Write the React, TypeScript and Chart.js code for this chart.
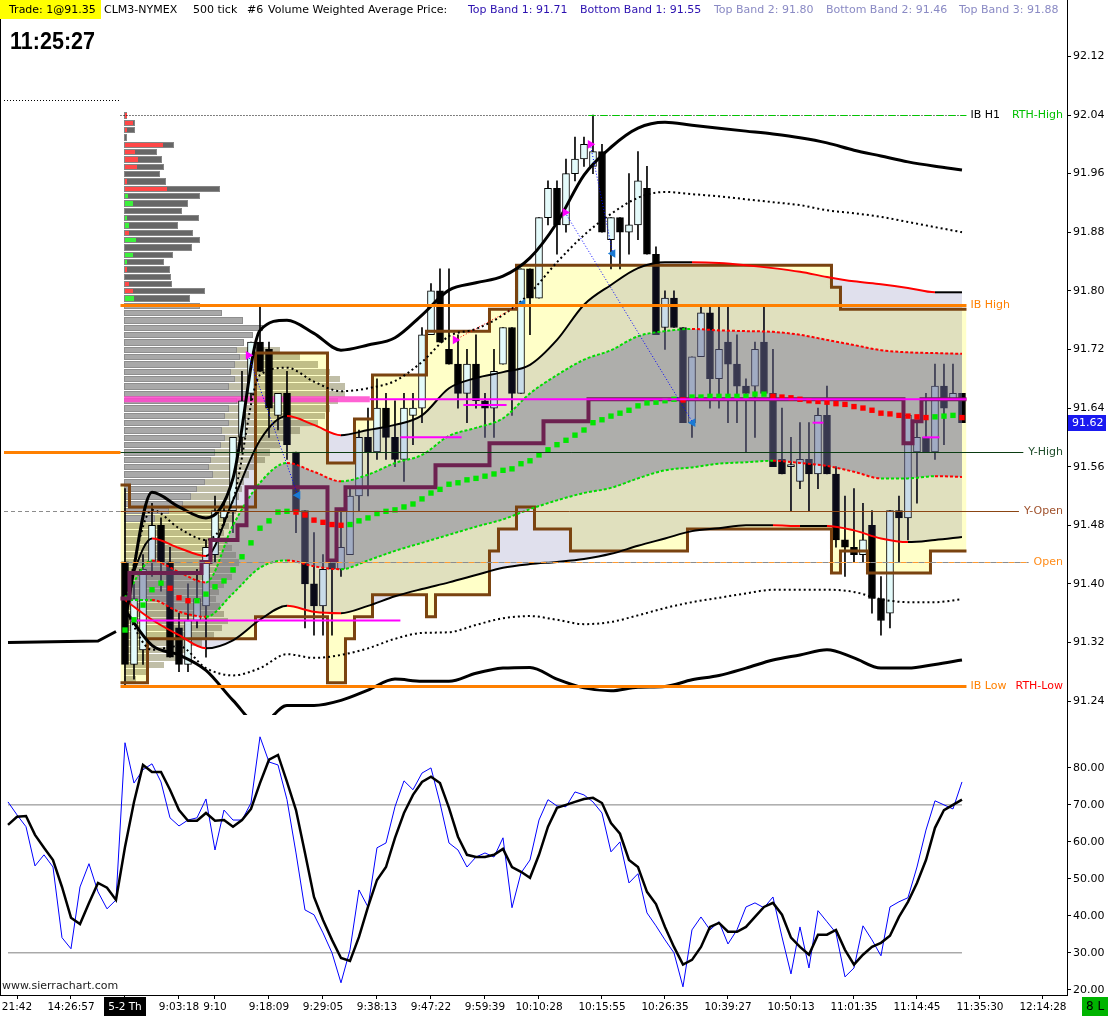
import { useEffect, useRef } from "react"
import { Chart, registerables } from "chart.js"

Chart.register(...registerables)

const FONT = '"DejaVu Sans", Verdana, sans-serif'
const TICK = 0.01 // CL tick size
const VOL_PX = 1 // profile width in px per volume unit

// pane heights in pixels: price pane on top, stochastic pane below
const PRICE_PANE = 715
const OSC_PANE = 280

// ---- time axis ----
const firstBar = 13 // first 500-tick bar of the 5-2 session
const timeTickBars = [1, 7, 13, 19, 23, 29, 35, 41, 47, 53, 59, 66, 73, 80, 87, 94, 101, 108, 115]
const timeTickLabels = ["21:42", "14:26:57", "5-2 Th", "9:03:18", "9:10", "9:18:09", "9:29:05", "9:38:13", "9:47:22", "9:59:39", "10:10:28", "10:15:55", "10:26:35", "10:39:27", "10:50:13", "11:01:35", "11:14:45", "11:35:30", "12:14:28"]
const dayLabel = "5-2 Th"

const priceTicks = [91.24, 91.28, 91.32, 91.36, 91.4, 91.44, 91.48, 91.52, 91.56, 91.6, 91.64, 91.68, 91.72, 91.76, 91.8, 91.84, 91.88, 91.92, 91.96, 92.0, 92.04, 92.08, 92.12, 92.16]
const oscTicks = [20, 30, 40, 50, 60, 70, 80]

// ---- session candles (bar 13 .. 106) ----
const opens = [
  91.43, 91.29, 91.31, 91.43, 91.48, 91.43, 91.34, 91.29, 91.35, 91.37,
  91.44, 91.49, 91.5, 91.6, 91.66, 91.73, 91.72, 91.63, 91.66, 91.58,
  91.5, 91.4, 91.37, 91.43, 91.42, 91.44, 91.52, 91.6, 91.58, 91.64,
  91.6, 91.57, 91.63, 91.64, 91.74, 91.8, 91.72, 91.7, 91.66, 91.7,
  91.65, 91.64, 91.7, 91.75, 91.66, 91.83, 91.79, 91.9, 91.94, 91.89,
  91.96, 91.98, 91.97, 91.99, 91.87, 91.9, 91.88, 91.89, 91.94, 91.85,
  91.75, 91.79, 91.75, 91.62, 91.71, 91.77, 91.68, 91.73, 91.7, 91.67,
  91.67, 91.73, 91.66, 91.57, 91.56, 91.54, 91.57, 91.55, 91.63, 91.55,
  91.46, 91.45, 91.44, 91.48, 91.38, 91.36, 91.5, 91.49, 91.58, 91.6,
  91.58, 91.67, 91.65, 91.66,
]
const highs = [
  91.53, 91.4, 91.44, 91.51, 91.49, 91.45, 91.36, 91.4, 91.42, 91.46,
  91.52, 91.51, 91.6, 91.69, 91.73, 91.78, 91.73, 91.66, 91.69, 91.58,
  91.5, 91.47, 91.44, 91.43, 91.5, 91.53, 91.61, 91.64, 91.68, 91.66,
  91.65, 91.66, 91.66, 91.75, 91.81, 91.83, 91.83, 91.74, 91.72, 91.74,
  91.66, 91.72, 91.75, 91.75, 91.83, 91.83, 91.9, 91.95, 91.95, 91.98,
  92.01, 92.01, 92.04, 92.0, 91.9, 91.9, 91.96, 91.99, 91.97, 91.86,
  91.8, 91.8, 91.75, 91.71, 91.78, 91.78, 91.78, 91.78, 91.74, 91.68,
  91.73, 91.78, 91.72, 91.64, 91.6, 91.62, 91.62, 91.64, 91.67, 91.56,
  91.52, 91.53, 91.51, 91.5, 91.41, 91.5, 91.52, 91.63, 91.62, 91.66,
  91.7, 91.7, 91.7, 91.66,
]
const lows = [
  91.26, 91.27, 91.29, 91.41, 91.39, 91.3, 91.28, 91.28, 91.34, 91.3,
  91.43, 91.48, 91.47, 91.58, 91.65, 91.69, 91.6, 91.61, 91.57, 91.47,
  91.34, 91.33, 91.33, 91.33, 91.41, 91.44, 91.5, 91.52, 91.57, 91.57,
  91.56, 91.54, 91.59, 91.62, 91.74, 91.73, 91.7, 91.64, 91.62, 91.64,
  91.6, 91.6, 91.7, 91.63, 91.66, 91.74, 91.79, 91.89, 91.85, 91.88,
  91.95, 91.97, 91.96, 91.88, 91.83, 91.83, 91.85, 91.87, 91.85, 91.74,
  91.72, 91.75, 91.62, 91.6, 91.71, 91.64, 91.64, 91.62, 91.62, 91.58,
  91.6, 91.66, 91.56, 91.55, 91.5, 91.53, 91.5, 91.53, 91.55, 91.45,
  91.41, 91.43, 91.43, 91.36, 91.33, 91.34, 91.43, 91.46, 91.51, 91.58,
  91.57, 91.59, 91.65, 91.62,
]
const closes = [
  91.29, 91.38, 91.42, 91.48, 91.43, 91.3, 91.29, 91.35, 91.38, 91.45,
  91.5, 91.5, 91.6, 91.65, 91.73, 91.69, 91.64, 91.66, 91.59, 91.5,
  91.4, 91.37, 91.42, 91.42, 91.45, 91.52, 91.6, 91.58, 91.64, 91.6,
  91.57, 91.64, 91.64, 91.74, 91.8, 91.73, 91.7, 91.66, 91.7, 91.65,
  91.64, 91.69, 91.75, 91.66, 91.83, 91.79, 91.9, 91.94, 91.89, 91.96,
  91.98, 92.0, 91.99, 91.88, 91.9, 91.88, 91.89, 91.95, 91.85, 91.74,
  91.79, 91.75, 91.62, 91.71, 91.77, 91.68, 91.72, 91.7, 91.67, 91.66,
  91.72, 91.66, 91.56, 91.55, 91.56, 91.57, 91.55, 91.63, 91.55, 91.46,
  91.45, 91.44, 91.46, 91.38, 91.35, 91.5, 91.49, 91.63, 91.6, 91.58,
  91.67, 91.64, 91.66, 91.62,
]

// VWAP of the session (square markers), bar 13 .. 106
const vwapValues = [
  91.337, 91.351, 91.371, 91.392, 91.401, 91.394, 91.381, 91.377, 91.377, 91.386,
  91.396, 91.404, 91.419, 91.437, 91.456, 91.476, 91.486, 91.498, 91.499, 91.498,
  91.494, 91.487, 91.484, 91.481, 91.48, 91.481, 91.486, 91.49, 91.496, 91.499,
  91.501, 91.505, 91.509, 91.516, 91.524, 91.529, 91.536, 91.538, 91.542, 91.544,
  91.547, 91.55, 91.555, 91.557, 91.564, 91.568, 91.576, 91.583, 91.59, 91.596,
  91.603, 91.61, 91.62, 91.624, 91.629, 91.633, 91.637, 91.643, 91.647, 91.648,
  91.65, 91.652, 91.651, 91.655, 91.655, 91.656, 91.656, 91.656, 91.656, 91.656,
  91.659, 91.659, 91.656, 91.655, 91.654, 91.652, 91.65, 91.649, 91.648, 91.646,
  91.645, 91.642, 91.64, 91.637, 91.633, 91.632, 91.63, 91.629, 91.628, 91.627,
  91.628, 91.629, 91.63, 91.627,
]

// VWAP standard deviation bands, sampled every third bar
const bandBars = [13, 16, 19, 22, 25, 28, 31, 34, 37, 40, 43, 46, 49, 52, 55, 58, 61, 64, 67, 70, 73, 76, 79, 82, 85, 88, 91, 94, 97, 100, 103, 106]
const band4Up = [91.35, 91.525, 91.505, 91.49, 91.544, 91.746, 91.76, 91.742, 91.719, 91.726, 91.736, 91.767, 91.801, 91.811, 91.82, 91.845, 91.893, 91.958, 91.996, 92.022, 92.03, 92.026, 92.022, 92.018, 92.014, 92.009, 92.002, 91.992, 91.984, 91.976, 91.97, 91.965]
const band3Up = [91.378, 91.501, 91.476, 91.46, 91.514, 91.685, 91.695, 91.676, 91.663, 91.667, 91.677, 91.703, 91.738, 91.748, 91.767, 91.797, 91.839, 91.876, 91.905, 91.927, 91.935, 91.932, 91.929, 91.925, 91.921, 91.917, 91.91, 91.906, 91.901, 91.894, 91.887, 91.88]
const band2Up = [91.385, 91.462, 91.449, 91.438, 91.514, 91.596, 91.629, 91.617, 91.603, 91.61, 91.617, 91.63, 91.667, 91.681, 91.689, 91.699, 91.733, 91.781, 91.808, 91.831, 91.839, 91.839, 91.838, 91.835, 91.831, 91.826, 91.819, 91.813, 91.809, 91.804, 91.798, 91.798]
const band1Up = [91.382, 91.432, 91.416, 91.402, 91.48, 91.538, 91.565, 91.553, 91.54, 91.549, 91.565, 91.576, 91.602, 91.613, 91.626, 91.66, 91.685, 91.706, 91.719, 91.738, 91.745, 91.748, 91.746, 91.745, 91.744, 91.74, 91.733, 91.726, 91.719, 91.716, 91.715, 91.714]
const band1Lo = [91.378, 91.378, 91.362, 91.355, 91.387, 91.422, 91.432, 91.424, 91.42, 91.432, 91.445, 91.456, 91.467, 91.478, 91.488, 91.502, 91.514, 91.524, 91.531, 91.544, 91.555, 91.559, 91.564, 91.566, 91.568, 91.565, 91.561, 91.553, 91.544, 91.544, 91.547, 91.546]
const band2Lo = [91.378, 91.351, 91.33, 91.312, 91.323, 91.351, 91.37, 91.362, 91.36, 91.37, 91.383, 91.393, 91.402, 91.412, 91.422, 91.427, 91.43, 91.434, 91.441, 91.452, 91.462, 91.472, 91.476, 91.48, 91.48, 91.479, 91.479, 91.473, 91.462, 91.457, 91.46, 91.464]
const band3Lo = [91.364, 91.31, 91.315, 91.285, 91.275, 91.285, 91.304, 91.299, 91.303, 91.312, 91.325, 91.333, 91.334, 91.344, 91.353, 91.356, 91.351, 91.345, 91.348, 91.357, 91.367, 91.375, 91.381, 91.387, 91.392, 91.392, 91.392, 91.389, 91.379, 91.375, 91.375, 91.379]
const band4Lo = [91.364, 91.316, 91.303, 91.282, 91.241, 91.207, 91.234, 91.234, 91.241, 91.255, 91.27, 91.267, 91.267, 91.278, 91.285, 91.286, 91.27, 91.258, 91.254, 91.259, 91.26, 91.269, 91.275, 91.285, 91.296, 91.303, 91.31, 91.299, 91.285, 91.285, 91.29, 91.296]

// previous day's band line, before the session
const priorBandBars = [0, 10, 12]
const priorBandValues = [91.32, 91.322, 91.335]

// developing value area and POC (step lines: first bar of each step + level)
const vahStarts = [13, 14, 28, 36, 39, 41, 47, 54, 57, 92, 93]
const vahLevels = [91.535, 91.505, 91.715, 91.565, 91.625, 91.685, 91.745, 91.775, 91.835, 91.805, 91.775]
const valStarts = [13, 16, 28, 36, 38, 39, 41, 47, 48, 54, 55, 57, 59, 63, 76, 92, 93, 96, 103]
const valLevels = [91.265, 91.325, 91.355, 91.265, 91.325, 91.355, 91.385, 91.355, 91.385, 91.445, 91.475, 91.505, 91.475, 91.445, 91.475, 91.415, 91.445, 91.415, 91.445]
const devPocStarts = [13, 14, 22, 23, 26, 27, 36, 37, 38, 48, 54, 60, 65, 100, 101, 102]
const devPocLevels = [91.38, 91.415, 91.43, 91.46, 91.48, 91.532, 91.432, 91.502, 91.532, 91.562, 91.592, 91.622, 91.652, 91.592, 91.622, 91.652]

// previous session volume profile, one row per tick from the top price down
const priorProfileTop = 92.04
const priorProfileVolumes = [2, 10, 10, 2, 49, 32, 37, 39, 35, 41, 95, 75, 63, 57, 74, 53, 68, 75, 67, 48, 39, 45, 46, 47, 80, 65, 75, 97, 118, 138, 128, 119, 112, 115, 110, 106, 110, 104, 122, 112, 104, 100, 104, 97, 100, 96, 90, 86, 84, 88, 80, 72, 66, 58, 44, 30]
const priorProfileDelta = [2, 8, 2, 0, 38, 10, 13, 12, 0, 2, 42, -3, -8, 0, -2, -4, 4, -11, 0, -8, -2, 2, 0, 4, 8, -9]
const priorPoc = 91.652
const pocBandEndBar = 40.2

// current session profile (drawn translucent)
const devProfileTop = 91.72
const devProfileVolumes = [156, 176, 194, 206, 216, 221, 221, 214, 206, 201, 194, 176, 166, 156, 146, 141, 130, 125, 120, 118, 115, 110, 112, 108, 105, 100, 104, 108, 112, 115, 112, 108, 100, 95, 92, 96, 100, 104, 98, 90, 78, 65, 55, 40, 25, 12]

// short magenta level marks
const markPrices = [91.35, 91.6, 91.644, 91.62, 91.6]
const markFrom = [13.6, 43.6, 50.6, 89.4, 101.6]
const markTo = [43.6, 50.4, 55.4, 90.6, 103.5]

// trade arrows (entry -> exit)
const tradeFromBar = [26.7, 61.9, 64.7, 49.7]
const tradeFromPrice = [91.712, 91.907, 92.0, 91.733]
const tradeToBar = [32.2, 76.1, 67.2, 57.2]
const tradeToPrice = [91.521, 91.62, 91.851, 91.783]
const tradeSide = ["sell", "sell", "sell", "buy"]

// reference levels
const priorDayHigh = 92.06
const ibHigh = 91.78
const ibLow = 91.26
const yHigh = 91.58
const yOpen = 91.5
const dayOpen = 91.43

// stochastic pane, bar 0 .. 106
const fastK = [70.8, 67.3, 64.1, 53.5, 56.5, 53.2, 34.1, 31.1, 47.8, 54.1, 46.5, 41.9, 44.3, 86.8, 75.9, 79.5, 81.1, 76.2, 66.5, 64.3, 65.9, 66.5, 71.6, 57.8, 68.6, 65.9, 65.9, 70.5, 88.4, 81.6, 80.8, 71.4, 57.0, 41.6, 40.3, 35.4, 30.0, 21.9, 30.8, 47.0, 42.4, 58.4, 59.7, 69.5, 76.5, 74.1, 78.6, 80.0, 70.5, 59.7, 57.8, 53.2, 55.9, 57.0, 55.9, 61.1, 42.2, 51.6, 55.1, 65.9, 71.4, 69.7, 69.5, 73.5, 72.7, 70.8, 67.8, 57.3, 60.0, 48.9, 51.4, 40.8, 37.3, 33.5, 30.0, 20.8, 36.2, 39.7, 36.2, 38.4, 32.4, 36.2, 42.4, 43.5, 42.2, 45.1, 34.3, 24.3, 37.0, 25.9, 41.4, 38.4, 35.4, 23.5, 25.9, 37.3, 33.5, 29.2, 42.4, 43.8, 44.9, 53.2, 63.2, 71.1, 70.0, 68.9, 76.2]
const slowD = [64.6, 66.8, 67.0, 61.9, 58.4, 55.1, 47.8, 39.5, 37.8, 43.5, 48.9, 47.6, 44.3, 58.6, 70.8, 80.8, 78.9, 78.9, 74.1, 68.6, 65.7, 65.7, 67.8, 65.7, 65.9, 64.1, 65.9, 68.9, 75.9, 82.2, 83.5, 76.2, 68.6, 57.0, 45.1, 38.9, 33.5, 28.6, 27.8, 34.3, 42.4, 49.7, 53.2, 61.1, 67.8, 72.7, 76.2, 77.6, 75.9, 69.2, 61.4, 56.5, 55.9, 55.9, 56.5, 58.1, 53.2, 51.9, 50.3, 56.5, 64.1, 69.2, 70.0, 70.8, 71.6, 71.9, 70.5, 65.1, 62.2, 55.1, 53.2, 46.5, 43.2, 37.0, 31.6, 26.8, 28.1, 31.6, 37.0, 38.1, 35.7, 35.7, 37.0, 39.7, 42.4, 43.5, 40.3, 34.1, 31.6, 29.5, 34.9, 34.9, 36.2, 30.8, 26.8, 29.5, 31.6, 32.7, 34.6, 39.7, 43.8, 48.9, 55.1, 63.8, 68.6, 70.0, 71.4]
const oscLevels = [70, 30]

// ---------------------------------------------------------------

const lastBar = firstBar + closes.length - 1
const sessionBars = closes.map((_, k) => firstBar + k)
const last = (a: number[]) => a[a.length - 1]
const rthHigh = Math.max(...highs)
const rthHighBar = firstBar + highs.indexOf(rthHigh)
const rthLow = Math.min(...lows)

const at = (xs: number[], ys: number[]) => xs.map((x, k) => ({ x, y: ys[k] }))

// expand a step series into bar-edge points so the steps fall between bars
function steps(starts: number[], levels: number[]) {
  const pts: { x: number; y: number }[] = []
  for (let b = firstBar; b <= lastBar; b++) {
    let v = levels[0]
    starts.forEach((s, k) => {
      if (b >= s) v = levels[k]
    })
    pts.push({ x: b - 0.5, y: v }, { x: b + 0.5, y: v })
  }
  return pts
}

const priceLine = (data: any[], extra: any) => ({
  type: "line",
  data,
  yAxisID: "y",
  pointRadius: 0,
  borderWidth: 1,
  borderColor: "rgba(0,0,0,0)",
  fill: false,
  ...extra,
})

const upDown = (up: string, down: string) => ({
  borderColor: (c: any) => (c.p1.parsed.y >= c.p0.parsed.y ? up : down),
})

const smooth = { cubicInterpolationMode: "monotone" }

function hline(ctx: any, x0: number, x1: number, y: number, color: string, width: number, dash: number[] = [], offset = 0) {
  ctx.save()
  ctx.strokeStyle = color
  ctx.lineWidth = width
  ctx.setLineDash(dash)
  ctx.lineDashOffset = offset
  ctx.beginPath()
  ctx.moveTo(x0, y)
  ctx.lineTo(x1, y)
  ctx.stroke()
  ctx.restore()
}

function drawProfile(chart: any, top: number, vols: number[], paint: (k: number, x: number, y: number, w: number, h: number) => void) {
  const xs = chart.scales.x
  const ys = chart.scales.y
  const x0 = Math.round(xs.getPixelForValue(firstBar - 0.1))
  vols.forEach((v, k) => {
    const p = top - k * TICK
    const y0 = Math.round(ys.getPixelForValue(p + TICK / 2))
    const y1 = Math.round(ys.getPixelForValue(p - TICK / 2))
    paint(k, x0, y0, Math.round(v * VOL_PX), y1 - y0)
  })
}

const overlay = {
  id: "overlay",
  // profiles sit on the value-area fill, under the candles
  afterDatasetDraw(chart: any, args: any) {
    if (chart.data.datasets[args.index].label !== "value area") return
    const { ctx } = chart
    const xs = chart.scales.x
    const ys = chart.scales.y
    ctx.save()
    drawProfile(chart, devProfileTop, devProfileVolumes, (_k, x, y, w, h) => {
      ctx.fillStyle = "rgba(105,100,45,0.42)"
      ctx.fillRect(x, y + 1, w, h - 1)
    })
    drawProfile(chart, priorProfileTop, priorProfileVolumes, (k, x, y, w, h) => {
      const dark = k < priorProfileDelta.length
      ctx.fillStyle = dark ? "#666666" : "#a8a8a8"
      ctx.fillRect(x, y + 1, w, h - 1)
      ctx.strokeStyle = dark ? "#868686" : "#8e8e8e"
      ctx.lineWidth = 1
      ctx.strokeRect(x + 0.5, y + 1.5, w, h - 2)
      const d = dark ? priorProfileDelta[k] : 0
      if (d) {
        ctx.fillStyle = d > 0 ? "#ff4848" : "#3cf03c"
        ctx.fillRect(x + 1, y + 2, Math.abs(d) * VOL_PX, h - 3)
      }
    })
    const py = ys.getPixelForValue(priorPoc)
    hline(ctx, xs.getPixelForValue(firstBar - 0.1), xs.getPixelForValue(pocBandEndBar), py, "rgba(255,70,205,0.85)", 6)
    ctx.restore()
  },
  afterDatasetsDraw(chart: any) {
    const { ctx, chartArea } = chart
    const xs = chart.scales.x
    const ys = chart.scales.y
    const Y = (p: number) => Math.round(ys.getPixelForValue(p)) + 0.5
    const left = xs.getPixelForValue(firstBar - 0.5)
    const right = xs.getPixelForValue(lastBar + 0.5)
    const labelRight = chartArea.right - 4
    ctx.save()
    ctx.font = `11px ${FONT}`
    ctx.textBaseline = "middle"

    // previous day levels
    hline(ctx, 4, left, Y(priorDayHigh), "#000", 1, [1, 2])
    hline(ctx, 4, left, Y(yHigh), "#ff8000", 3)
    hline(ctx, 4, left, Y(yOpen), "#8c8c8c", 1, [4, 3])

    // prior POC carried through the session
    hline(ctx, xs.getPixelForValue(pocBandEndBar), right, ys.getPixelForValue(priorPoc), "#ff00ff", 2)

    // RTH high / IB H1
    hline(ctx, left, right, Y(rthHigh), "#000", 1, [1, 2])
    hline(ctx, xs.getPixelForValue(rthHighBar - 0.5), right, Y(rthHigh), "#00c800", 1, [7, 5])
    ctx.textAlign = "left"
    ctx.fillStyle = "#000"
    ctx.fillText("IB H1", right + 4, Y(rthHigh))
    ctx.textAlign = "right"
    ctx.fillStyle = "#00c000"
    ctx.fillText("RTH-High", labelRight, Y(rthHigh))

    // IB high / low
    hline(ctx, left, right, Y(ibHigh), "#ff8000", 3)
    hline(ctx, left, right, Y(ibLow), "#ff8000", 3)
    ctx.textAlign = "left"
    ctx.fillStyle = "#ff8000"
    ctx.fillText("IB High", right + 4, Y(ibHigh))
    ctx.fillText("IB Low", right + 4, Y(ibLow))
    ctx.textAlign = "right"
    ctx.fillStyle = "#ff0000"
    ctx.fillText("RTH-Low", labelRight, Y(rthLow))

    // yesterday's high / open and today's open
    const tagged: [string, number, string, string][] = [
      ["Y-High", yHigh, "#0b3d12", "#1f4d2b"],
      ["Y-Open", yOpen, "#8b4513", "#a0522d"],
      ["Open", dayOpen, "#ff9a30", "#ff8c1a"],
    ]
    tagged.forEach(([name, p, lineColor, textColor]) => {
      const end = labelRight - ctx.measureText(name).width - 5
      if (name === "Open") {
        hline(ctx, left, end, Y(p), lineColor, 1, [6, 6])
        hline(ctx, left, end, Y(p), "#8c8c8c", 1, [6, 6], 6)
      } else {
        hline(ctx, left, end, Y(p), lineColor, 1)
      }
      ctx.fillStyle = textColor
      ctx.fillText(name, labelRight, Y(p))
    })

    // last price tag on the axis
    const lc = last(closes)
    const ly = Math.round(ys.getPixelForValue(lc))
    ctx.fillStyle = "#1a1af0"
    ctx.fillRect(chartArea.right + 1, ly - 8, 38, 16)
    ctx.fillStyle = "#fff"
    ctx.textAlign = "left"
    ctx.fillText(lc.toFixed(2), chartArea.right + 5, ly)
    ctx.restore()
  },
  afterDraw(chart: any) {
    const { ctx, chartArea } = chart
    const xs = chart.scales.x
    ctx.save()
    ctx.fillStyle = "#000"
    ctx.fillRect(0, 0, 1, chartArea.bottom)

    // time labels under the x axis
    ctx.font = `10.5px ${FONT}`
    ctx.textBaseline = "middle"
    ctx.textAlign = "center"
    timeTickBars.forEach((b, k) => {
      const x = xs.getPixelForValue(b)
      const t = timeTickLabels[k]
      if (t === dayLabel) {
        const w = ctx.measureText(t).width
        ctx.fillStyle = "#000"
        ctx.fillRect(Math.round(x - w / 2 - 4), chartArea.bottom + 2, Math.round(w + 8), 21)
        ctx.fillStyle = "#fff"
      } else {
        ctx.fillStyle = "#000"
      }
      ctx.fillText(t, x, chartArea.bottom + 12)
    })

    // study header
    ctx.textAlign = "left"
    ctx.fillStyle = "#ffff00"
    ctx.fillRect(0, 0, 101, 19)
    ctx.font = `11px ${FONT}`
    const headerParts: [string, number, string][] = [
      ["Trade: 1@91.35", 9, "#000"],
      ["CLM3-NYMEX", 104, "#000"],
      ["500 tick", 193, "#000"],
      ["#6", 247, "#000"],
      ["Volume Weighted Average Price:", 268, "#000"],
      [`Top Band 1: ${last(band1Up).toFixed(2)}`, 468, "#2b10b0"],
      [`Bottom Band 1: ${last(band1Lo).toFixed(2)}`, 580, "#2b10b0"],
      [`Top Band 2: ${last(band2Up).toFixed(2)}`, 714, "#8a8ac4"],
      [`Bottom Band 2: ${last(band2Lo).toFixed(2)}`, 826, "#8a8ac4"],
      [`Top Band 3: ${last(band3Up).toFixed(2)}`, 959, "#8a8ac4"],
    ]
    headerParts.forEach(([t, x, c]) => {
      ctx.fillStyle = c
      ctx.fillText(t, x, 10)
    })

    ctx.font = 'bold 23px "Liberation Sans", Arial, sans-serif'
    ctx.fillStyle = "#000"
    ctx.fillText("11:25:27", 10, 43, 85)

    ctx.font = `11px ${FONT}`
    ctx.fillStyle = "#202020"
    ctx.fillText("www.sierrachart.com", 2, 986)

    ctx.fillStyle = "#00b400"
    ctx.fillRect(1082, 997, 26, 19)
    ctx.fillStyle = "#000"
    ctx.font = `12px ${FONT}`
    ctx.fillText("8 L", 1086, 1007)
    ctx.restore()
  },
}

// keep the plot area edge to edge: no padding for overflowing tick labels
const noPadding = (s: any) => {
  s.paddingLeft = 0
  s.paddingRight = 0
  s.paddingTop = 0
  s.paddingBottom = 0
}

function buildConfig() {
  const wickData = sessionBars.map((x, k) => ({ x, y: [lows[k], highs[k]] }))
  const bodyData = sessionBars.map((x, k) => ({ x, y: [opens[k], closes[k]] }))
  const isUp = (k: number) => closes[k] >= opens[k]

  const datasets: any[] = [
    // value area fill
    priceLine(steps(valStarts, valLevels), { label: "va-low", order: 101 }),
    priceLine(steps(vahStarts, vahLevels), { label: "value area", fill: "-1", backgroundColor: "#ffffc8", order: 100 }),
    // candles
    {
      type: "bar",
      data: wickData,
      yAxisID: "y",
      backgroundColor: "#000",
      barThickness: 1,
      grouped: false,
      order: 90,
    },
    {
      type: "bar",
      data: bodyData,
      yAxisID: "y",
      backgroundColor: (c: any) => (isUp(c.dataIndex) ? "#e4fbfb" : "#000"),
      borderColor: "#000",
      borderWidth: 1,
      borderSkipped: false,
      barThickness: 7,
      minBarLength: 2,
      grouped: false,
      order: 89,
    },
    // band fills laid over the candles
    priceLine(at(bandBars, band2Lo), { ...smooth, order: 61 }),
    priceLine(at(bandBars, band2Up), { ...smooth, fill: "-1", backgroundColor: "rgba(60,60,140,0.16)", order: 60 }),
    priceLine(at(bandBars, band1Lo), { ...smooth, order: 59 }),
    priceLine(at(bandBars, band1Up), { ...smooth, fill: "-1", backgroundColor: "rgba(113,113,149,0.45)", order: 58 }),
    // value area outline
    priceLine(steps(vahStarts, vahLevels), { borderColor: "#7a4310", borderWidth: 3, order: 40 }),
    priceLine(steps(valStarts, valLevels), { borderColor: "#7a4310", borderWidth: 3, order: 40 }),
    // band lines
    priceLine(at(bandBars, band4Up), { ...smooth, borderColor: "#000", borderWidth: 3, order: 30 }),
    priceLine(at(bandBars, band4Lo), { ...smooth, borderColor: "#000", borderWidth: 3, order: 30 }),
    priceLine(at(bandBars, band3Up), { ...smooth, borderColor: "#000", borderWidth: 2, borderDash: [2, 3], order: 30 }),
    priceLine(at(bandBars, band3Lo), { ...smooth, borderColor: "#000", borderWidth: 2, borderDash: [2, 3], order: 30 }),
    priceLine(at(bandBars, band2Up), { ...smooth, borderWidth: 2, segment: upDown("#000", "#ff0000"), order: 30 }),
    priceLine(at(bandBars, band2Lo), { ...smooth, borderWidth: 2, segment: upDown("#000", "#ff0000"), order: 30 }),
    priceLine(at(bandBars, band1Up), { ...smooth, borderWidth: 2, borderDash: [3, 2], segment: upDown("#00dd00", "#ff0000"), order: 30 }),
    priceLine(at(bandBars, band1Lo), { ...smooth, borderWidth: 2, borderDash: [3, 2], segment: upDown("#00dd00", "#ff0000"), order: 30 }),
    priceLine(at(priorBandBars, priorBandValues), { borderColor: "#000", borderWidth: 3, order: 30 }),
    // developing POC
    priceLine(steps(devPocStarts, devPocLevels), { borderColor: "#6d2150", borderWidth: 4, order: 20 }),
    // magenta marks
    ...markPrices.map((p, k) =>
      priceLine(
        [
          { x: markFrom[k], y: p },
          { x: markTo[k], y: p },
        ],
        { borderColor: "#ff00ff", borderWidth: 2, order: 15 },
      ),
    ),
    // trade arrows
    ...tradeSide.map((side, k) =>
      priceLine(
        [
          { x: tradeFromBar[k], y: tradeFromPrice[k] },
          { x: tradeToBar[k], y: tradeToPrice[k] },
        ],
        {
          borderColor: side === "sell" ? "#0000ff" : "#ff0000",
          borderDash: [1, 2],
          pointRadius: 5,
          pointStyle: "triangle",
          pointRotation: [90, -90],
          pointBackgroundColor: ["#ff00ff", "#1a7ad4"],
          pointBorderWidth: 0,
          order: 12,
        },
      ),
    ),
    // VWAP squares coloured by slope
    {
      type: "line",
      data: at(sessionBars, vwapValues),
      yAxisID: "y",
      showLine: false,
      pointStyle: "rect",
      pointRadius: 3.8,
      pointBorderWidth: 0,
      pointBackgroundColor: (c: any) => {
        const k = c.dataIndex
        return k === 0 || vwapValues[k] >= vwapValues[k - 1] ? "#00e600" : "#ff0000"
      },
      order: 10,
    },
    // stochastic pane
    ...oscLevels.map((v) => ({
      type: "line",
      data: [
        { x: 0, y: v },
        { x: fastK.length - 1, y: v },
      ],
      yAxisID: "y2",
      borderColor: "#808080",
      borderWidth: 1,
      pointRadius: 0,
      order: 5,
    })),
    {
      type: "line",
      data: fastK.map((y, x) => ({ x, y })),
      yAxisID: "y2",
      borderColor: "#0000ff",
      borderWidth: 1,
      pointRadius: 0,
      order: 4,
    },
    {
      type: "line",
      data: slowD.map((y, x) => ({ x, y })),
      yAxisID: "y2",
      borderColor: "#000",
      borderWidth: 2.5,
      pointRadius: 0,
      order: 3,
    },
  ]

  const axisGrid = { display: true, drawOnChartArea: false, drawTicks: true, tickLength: 4, color: "#000", offset: false }
  const axisBorder = { display: true, color: "#000", width: 1 }
  const tickFont = { family: FONT, size: 11 }

  return {
    type: "line",
    data: { datasets },
    plugins: [overlay],
    options: {
      animation: false,
      responsive: true,
      maintainAspectRatio: false,
      events: [],
      layout: { padding: 0, autoPadding: false },
      plugins: { legend: { display: false }, tooltip: { enabled: false } },
      scales: {
        x: {
          type: "linear",
          // the bar datasets would otherwise switch on category-style edge offsets
          offset: false,
          min: -0.889,
          max: 117.67,
          grid: axisGrid,
          border: axisBorder,
          afterFit: (s: any) => {
            s.height = 21
            noPadding(s)
          },
          afterBuildTicks: (s: any) => {
            s.ticks = timeTickBars.map((value) => ({ value }))
          },
          // labels are drawn by the overlay plugin so they never pad the plot area
          ticks: { display: false },
        },
        y: {
          type: "linear",
          position: "right",
          stack: "panes",
          stackWeight: PRICE_PANE,
          min: 91.221,
          max: 92.197,
          grid: axisGrid,
          border: axisBorder,
          afterFit: (s: any) => {
            s.width = 41
            noPadding(s)
          },
          afterBuildTicks: (s: any) => {
            s.ticks = priceTicks.map((value) => ({ value }))
          },
          ticks: {
            padding: 2,
            color: "#000",
            font: tickFont,
            callback: (v: any) => Number(v).toFixed(2),
          },
        },
        y2: {
          type: "linear",
          position: "right",
          stack: "panes",
          stackWeight: OSC_PANE,
          min: 18.6,
          max: 94.3,
          grid: axisGrid,
          border: axisBorder,
          afterFit: (s: any) => {
            s.width = 41
            noPadding(s)
          },
          afterBuildTicks: (s: any) => {
            s.ticks = oscTicks.map((value) => ({ value }))
          },
          ticks: {
            padding: 2,
            color: "#000",
            font: tickFont,
            callback: (v: any) => Number(v).toFixed(2),
          },
        },
      },
    },
  }
}

export default function App() {
  const canvasRef = useRef<HTMLCanvasElement>(null)
  const chartRef = useRef<Chart | null>(null)

  useEffect(() => {
    document.body.style.margin = "0"
    if (!canvasRef.current) return
    if (chartRef.current) chartRef.current.destroy()
    chartRef.current = new Chart(canvasRef.current, buildConfig() as any)
    return () => {
      if (chartRef.current) {
        chartRef.current.destroy()
        chartRef.current = null
      }
    }
  }, [])

  return (
    <div style={{ position: "relative", width: 1108, height: 1016, background: "#fff" }}>
      <canvas ref={canvasRef}></canvas>
    </div>
  )
}
